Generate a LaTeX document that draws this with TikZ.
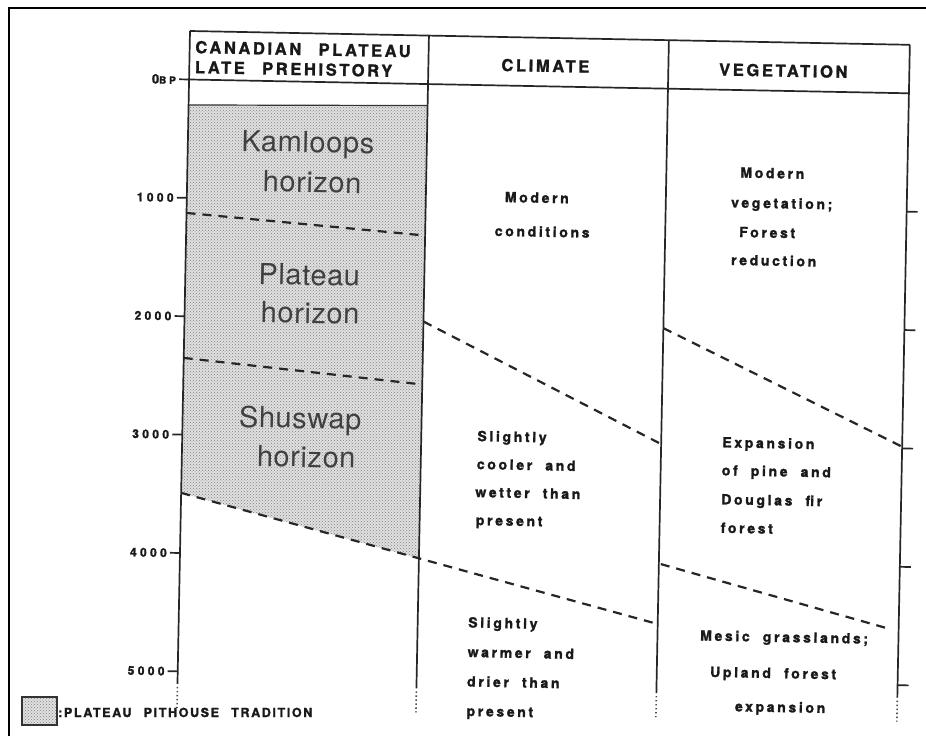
\documentclass[tikz,border=0pt]{standalone}
\usepackage{fontspec}
\setmainfont{TeX Gyre Heros}
\newfontfamily\hdrfont{TeX Gyre Heros}[LetterSpace=16,WordSpace=2.4,BoldFeatures={FakeBold=1.4}]
\newfontfamily\bodyfont{TeX Gyre Heros}[LetterSpace=19,WordSpace=2,BoldFeatures={FakeBold=1.6}]
\newfontfamily\numfont{TeX Gyre Heros}[LetterSpace=28,BoldFeatures={FakeBold=1.6}]
\newfontfamily\horfont{TeX Gyre Heros}[LetterSpace=2]
\newfontfamily\legfont{TeX Gyre Heros}[LetterSpace=13,WordSpace=2.4,BoldFeatures={FakeBold=1.6}]
\usetikzlibrary{patterns}
\tikzset{
  frame/.style={line width=2.8pt, black},
  colline/.style={line width=1.7pt, black!85},
  thinline/.style={line width=1.2pt, black!80},
  bound/.style={line width=2.2pt, dash pattern=on 9pt off 7pt, black!85},
  cont/.style={line width=1.6pt, dash pattern=on 1.4pt off 2.6pt, black!70},
  shade/.style={fill=black!12, postaction={pattern=crosshatch dots, pattern color=black!50}},
  hdr/.style={font=\hdrfont\bfseries\fontsize{16.5}{18}\selectfont, inner sep=0pt, text=black!90},
  body/.style={font=\bodyfont\bfseries\fontsize{14}{16}\selectfont, inner sep=0pt, text=black!90},
  hor/.style={font=\horfont\fontsize{29}{32}\selectfont, inner sep=0pt, text=black!75},
  num/.style={font=\numfont\bfseries\fontsize{12}{14}\selectfont, inner sep=0pt, text=black!90},
  leg/.style={font=\legfont\bfseries\fontsize{12.5}{14}\selectfont, inner sep=0pt, text=black!90}
}
\begin{document}
\begin{tikzpicture}[x=1pt,y=-1pt]
\useasboundingbox[fill=white] (0,0) rectangle (926,736);
% outer frame
\draw[frame] (9,736) -- (9,8) -- (926,8);

\begin{scope}[shift={(190,31)}, rotate=-1.1, transform shape]
  % named corner points
  \coordinate (shTL) at (0,74);
  \coordinate (shTR) at (239,70);
  \coordinate (b3L) at (0,462);
  \coordinate (b3R) at (479,584);
  \coordinate (b3M) at (239,523);
  % plateau pithouse shading
  \path[shade] (shTL) -- (shTR) -- (b3M) -- (b3L) -- cycle;
  \draw[thinline] (shTL) -- (shTR);
  % header box
  \coordinate (hTL) at (0,0);
  \coordinate (hTR) at (720,0);
  \coordinate (zeroL) at (-10,48.5);
  \coordinate (hBR) at (720,48.5);
  \draw[colline] (hTL) -- (hTR);
  \draw[colline] (zeroL) -- (hBR);
  % column lines with dotted continuation
  \foreach \u in {0,239,479,720} {
    \draw[colline] (\u,0) -- (\u,653);
    \draw[cont] (\u,656) -- (\u,677);
  }
  % ticks
  \foreach \k in {1,...,5} {
    \draw[colline] (-10,{48.5+118.4*\k}) -- (0,{48.5+118.4*\k});
    \draw[colline] (720,{48.5+118.4*\k}) -- (731,{48.5+118.4*\k});
  }
  % tick labels
  \node[num, anchor=east] (t0) at (-13,48.5) {{\fontsize{13}{14}\selectfont 0}{\fontsize{10}{11}\selectfont BP}};
  \node[num, anchor=east] (t1) at (-13,166.9) {1000};
  \node[num, anchor=east] (t2) at (-13,285.3) {2000};
  \node[num, anchor=east] (t3) at (-13,403.7) {3000};
  \node[num, anchor=east] (t4) at (-13,522.1) {4000};
  \node[num, anchor=east] (t5) at (-13,640.5) {5000};
  % boundaries
  \coordinate (b1L) at (0,182);   \coordinate (b1R) at (239,200);
  \coordinate (b2L) at (0,327);   \coordinate (b2R) at (239,349);
  \coordinate (c1L) at (239,286); \coordinate (c1R) at (479,404);
  \coordinate (v1L) at (479,288); \coordinate (v1R) at (720,402);
  \coordinate (v2L) at (481,524); \coordinate (v2R) at (713,585);
  \draw[bound] (b1L) -- (b1R);
  \draw[bound] (b2L) -- (b2R);
  \draw[bound] (b3L) -- (b3R);
  \draw[bound] (c1L) -- (c1R);
  \draw[bound] (v1L) -- (v1R);
  \draw[bound] (v2L) -- (v2R);
  % headers
  \node[hdr, anchor=base west] (hA) at (5.5,22) {CANADIAN PLATEAU};
  \node[hdr, anchor=base west] (hB) at (5.5,42) {LATE PREHISTORY};
  \node[hdr, anchor=base] (hC) at (356,34) {CLIMATE};
  \node[hdr, anchor=base] (hV) at (594,34.3) {VEGETATION};
  % horizons
  \node[hor, anchor=base] (k1) at (120,119) {Kamloops};
  \node[hor, anchor=base] (k2) at (125,159) {horizon};
  \node[hor, anchor=base] (p1) at (124,252) {Plateau};
  \node[hor, anchor=base] (p2) at (125.6,290) {horizon};
  \node[hor, anchor=base] (s1) at (117.6,395) {Shuswap};
  \node[hor, anchor=base] (s2) at (124.4,434) {horizon};
  % climate
  \node[body, anchor=base] (cm1) at (350,165) {Modern};
  \node[body, anchor=base] (cm2) at (356,199) {conditions};
  \node[body, anchor=base west] (cc1) at (295,404.5) {Slightly};
  \node[body, anchor=base west] (cc2) at (295,432.5) {cooler and};
  \node[body, anchor=base west] (cc3) at (294,460.5) {wetter than};
  \node[body, anchor=base west] (cc4) at (295,488.5) {present};
  \node[body, anchor=base west] (cw1) at (289.4,591) {Slightly};
  \node[body, anchor=base west] (cw2) at (289.4,620.5) {warmer and};
  \node[body, anchor=base west] (cw3) at (289.4,650) {drier than};
  \node[body, anchor=base west] (cw4) at (289.4,679.5) {present};
  % vegetation
  \node[body, anchor=base] (vm1) at (585,136) {Modern};
  \node[body, anchor=base] (vm2) at (595,166) {vegetation;};
  \node[body, anchor=base] (vm3) at (581,195.5) {Forest};
  \node[body, anchor=base] (vm4) at (588,223.5) {reduction};
  \node[body, anchor=base west] (ve1) at (540,406) {Expansion};
  \node[body, anchor=base west] (ve2) at (540,434) {of pine and};
  \node[body, anchor=base west] (ve3) at (540,463) {Douglas fir};
  \node[body, anchor=base west] (ve4) at (540,491.5) {forest};
  \node[body, anchor=base] (vg1) at (605.7,599.6) {Mesic grasslands;};
  \node[body, anchor=base] (vg2) at (595.4,635.8) {Upland forest};
  \node[body, anchor=base] (vg3) at (603,669.7) {expansion};
\end{scope}

% legend
\path[shade] (22,697) rectangle (57,725);
\draw[line width=1.5pt, black!80] (22,697) rectangle (57,725);
\node[leg, anchor=base west] (legtext) at (58,717) {:PLATEAU PITHOUSE TRADITION};
\end{tikzpicture}
\end{document}
